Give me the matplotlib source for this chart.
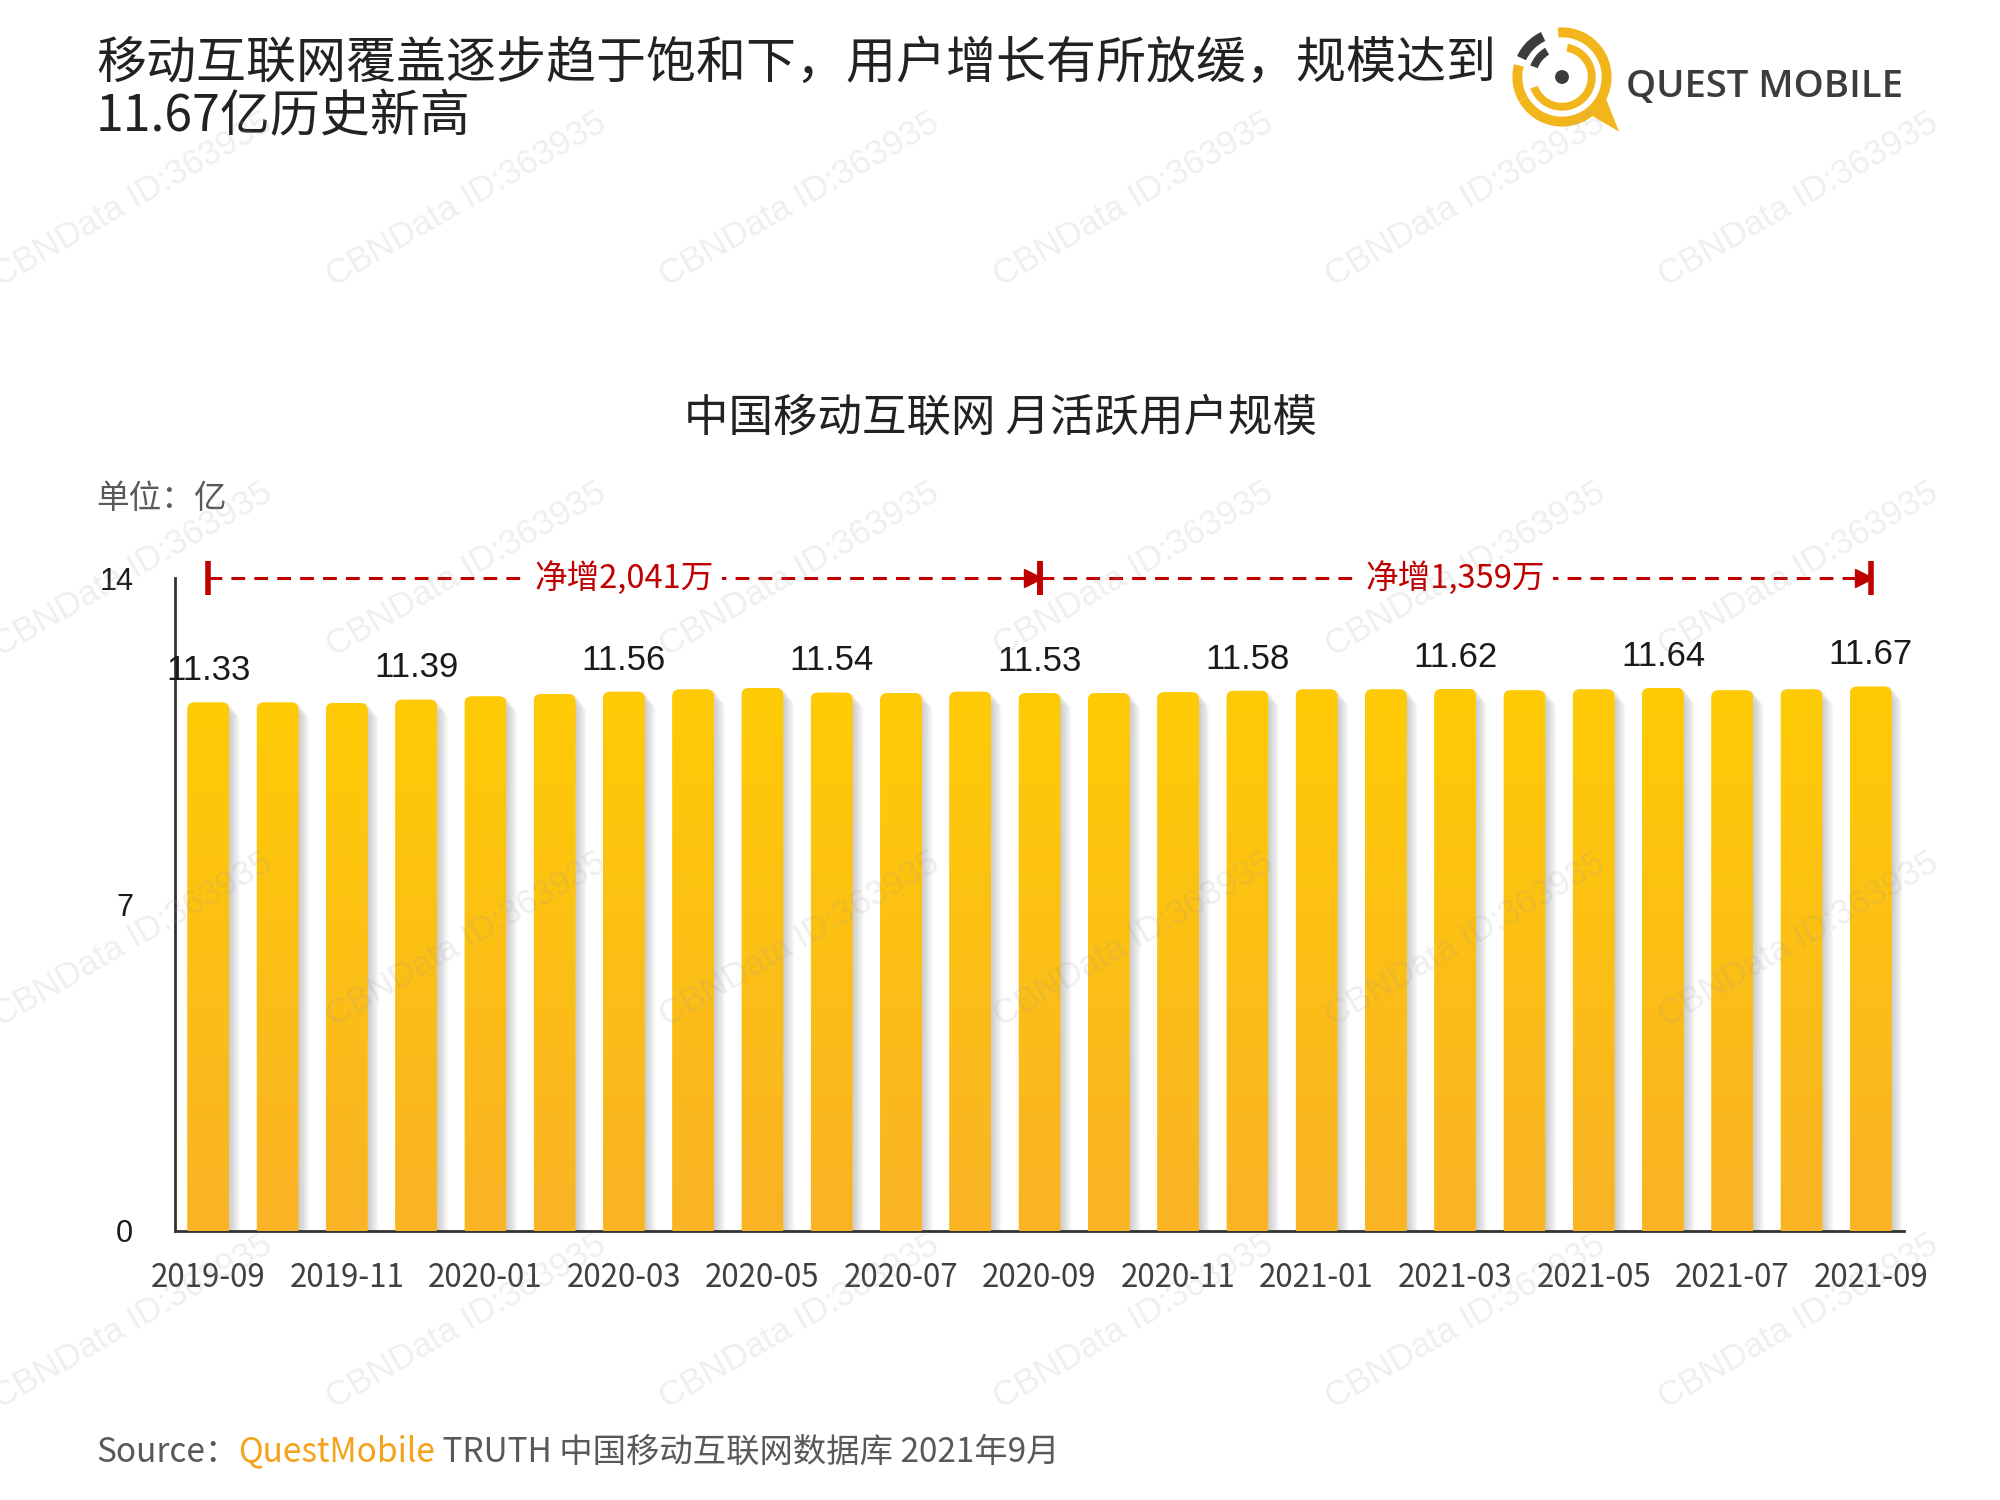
import numpy as np
import matplotlib.pyplot as plt
from matplotlib.patches import FancyBboxPatch, Wedge, Circle, Polygon
from matplotlib.colors import LinearSegmentedColormap

plt.rcParams['font.family'] = ['Noto Sans CJK SC', 'DejaVu Sans']

months = ['2019-09', '2019-10', '2019-11', '2019-12', '2020-01', '2020-02', '2020-03',
          '2020-04', '2020-05', '2020-06', '2020-07', '2020-08', '2020-09', '2020-10',
          '2020-11', '2020-12', '2021-01', '2021-02', '2021-03', '2021-04', '2021-05',
          '2021-06', '2021-07', '2021-08', '2021-09']
mau = [11.33, 11.33, 11.32, 11.39, 11.46, 11.51, 11.56, 11.61, 11.64, 11.54, 11.53,
       11.56, 11.53, 11.53, 11.55, 11.58, 11.61, 11.61, 11.62, 11.59, 11.61, 11.64,
       11.59, 11.61, 11.67]
label_idx = [0, 3, 6, 9, 12, 15, 18, 21, 24]
yticks = [0, 7, 14]
growth_spans = [(0, 12, '净增2,041万'), (12, 24, '净增1,359万')]

W, H = 2000, 1500
fig = plt.figure(figsize=(20, 15), dpi=100)
fig.patch.set_facecolor('white')

ax = fig.add_axes([175 / W, 1 - 1231 / H, (1904 - 175) / W, (1231 - 578) / H])
x = np.arange(len(months))
bw = 0.6
cmap = LinearSegmentedColormap.from_list('yl', ['#F9B326', '#FFCB05'])
grad = np.linspace(0, 1, 256).reshape(-1, 1)

for i, v in enumerate(mau):
    # soft shadow on the right
    for k in range(6):
        off = 0.03 + 0.025 * k
        sh = FancyBboxPatch((i - bw / 2 + off, -0.5), bw, v + 0.5 - 0.05 * k,
                            boxstyle='round,pad=0,rounding_size=0.1', mutation_aspect=1.5,
                            fc='#808080', ec='none', alpha=0.07, zorder=1)
        ax.add_patch(sh)
    p = FancyBboxPatch((i - bw / 2, -0.5), bw, v + 0.5,
                       boxstyle='round,pad=0,rounding_size=0.1', mutation_aspect=1.5,
                       fc='#FFCB05', ec='none', zorder=2)
    ax.add_patch(p)
    im = ax.imshow(grad, extent=[i - bw / 2, i + bw / 2, 0, v], origin='lower',
                   cmap=cmap, aspect='auto', zorder=3)
    im.set_clip_path(p)

for i in label_idx:
    ax.annotate(f'{mau[i]:.2f}', (x[i], mau[i]), xytext=(0, 11), textcoords='offset points',
                ha='center', va='bottom', fontsize=25, color='#1a1a1a',
                family=['Liberation Sans', 'DejaVu Sans'])

ax.set_xlim(-0.48, 24.48)
ax.set_ylim(0, 14)
ax.set_xticks(x[::2])
ax.set_xticklabels(months[::2], fontsize=22.5, color='#404040', fontweight='light')
ax.set_yticks(yticks)
ax.set_yticklabels([str(t) for t in yticks], fontsize=22, color='#1a1a1a',
                   family=['Liberation Sans', 'DejaVu Sans'])
ax.tick_params(axis='x', length=0, pad=22)
ax.tick_params(axis='y', length=0, pad=30)
for s in ['top', 'right']:
    ax.spines[s].set_visible(False)
for s in ['left', 'bottom']:
    ax.spines[s].set_color('#333333')
    ax.spines[s].set_linewidth(2)

# net growth arrows
red = '#C00000'
for a, b, txt in growth_spans:
    ax.plot([a, b - 0.1], [14, 14], color=red, lw=2.2, dashes=(4.5, 3), clip_on=False, zorder=5)
    ax.plot([a, b], [14, 14], ls='none', marker='|', ms=24, mew=4, color=red, clip_on=False, zorder=6)
    ax.plot([b - 0.1], [14], ls='none', marker='>', ms=13, color=red, mec=red, clip_on=False, zorder=6)
    ax.text((a + b) / 2, 14, txt, ha='center', va='center', fontsize=23.5, color=red, zorder=7,
            bbox=dict(fc='white', ec='none', pad=6), clip_on=False)

# headings
fig.text(96 / W, 1 - 64 / H, '移动互联网覆盖逐步趋于饱和下，用户增长有所放缓，规模达到',
         fontsize=36, color='#222222', va='center', ha='left', fontweight='light')
fig.text(96 / W, 1 - 117 / H, '11.67亿历史新高', fontsize=36, color='#222222', va='center',
         ha='left', fontweight='light')
fig.text(1001 / W, 1 - 418 / H, '中国移动互联网 月活跃用户规模', fontsize=32, color='#222222',
         ha='center', va='center')
fig.text(96 / W, 1 - 499 / H, '单位：亿', fontsize=23.5, color='#595959', ha='left', va='center',
         fontweight='light')

# source line
fig.canvas.draw()
r = fig.canvas.get_renderer()
xpos = 96
for piece, col in [('Source：', '#595959'), ('QuestMobile', '#F5A21B'),
                   (' TRUTH 中国移动互联网数据库 2021年9月', '#595959')]:
    t = fig.text(xpos / W, 1 - 1452 / H, piece, fontsize=24, color=col, ha='left', va='center',
                 fontweight='light')
    xpos += t.get_window_extent(r).width

# logo
lax = fig.add_axes([(1562 - 62) / W, 1 - (77 + 62) / H, 124 / W, 124 / H])
lax.set_xlim(-1.25, 1.25)
lax.set_ylim(-1.25, 1.25)
lax.set_aspect('equal')
lax.axis('off')
yel = '#F2B51C'
dark = '#3C3C3C'
lax.add_patch(Wedge((0, 0), 1.0, -150, 95, width=0.2, fc=yel, ec='none'))
lax.add_patch(Wedge((0, 0), 1.0, 165, 210, width=0.2, fc=yel, ec='none'))
lax.add_patch(Polygon([[0.55, -0.75], [1.15, -1.1], [0.85, -0.35]], fc=yel, ec='none'))
lax.add_patch(Wedge((0, 0), 1.0, 115, 155, width=0.2, fc=dark, ec='none'))
lax.add_patch(Wedge((0, 0), 0.68, 120, 160, width=0.16, fc=dark, ec='none'))
lax.add_patch(Wedge((0, 0), 0.68, -160, 80, width=0.16, fc=yel, ec='none'))
lax.add_patch(Circle((0, 0), 0.14, fc=dark, ec='none'))
fig.text(1626 / W, 1 - 87 / H, 'QUEST MOBILE', fontsize=27.5, color=dark, fontweight='semibold',
         family=['Open Sans', 'DejaVu Sans'], ha='left', va='center')

# watermark
for yy in [287, 657, 1027, 1409]:
    for xx in [0, 334, 667, 1001, 1333, 1666]:
        fig.text(xx / W, 1 - yy / H, 'CBNData ID:363935', fontsize=25, color='#9a9a9a', alpha=0.16,
                 rotation=30, rotation_mode='anchor', ha='left', va='baseline',
                 family=['Liberation Sans', 'DejaVu Sans'], zorder=20)

fig.savefig('out.png', dpi=100, facecolor='white')
